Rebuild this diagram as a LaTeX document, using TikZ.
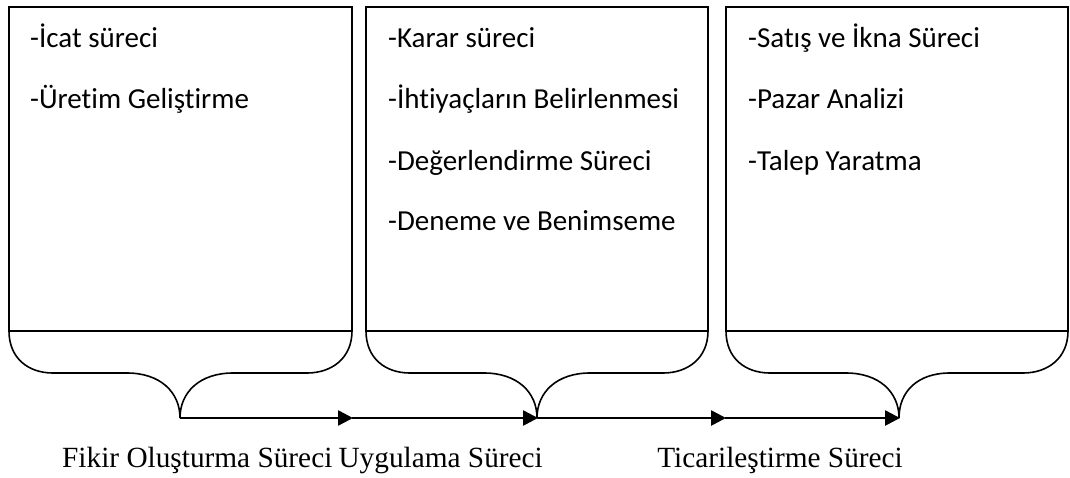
\documentclass[tikz,border=0pt]{standalone}
\usepackage{fontspec}
\setmainfont{Liberation Serif}
\newfontfamily\boxfont[Ligatures=NoCommon]{Carlito}
\usetikzlibrary{arrows.meta}

\tikzset{
  frame/.style={line width=1.6pt, line join=miter},
  brace/.style={line width=1.6pt},
  item/.style={anchor=base west, inner sep=0pt, font=\boxfont\fontsize{29}{32}\selectfont},
  phase/.style={inner sep=0pt, font=\fontsize{29.3}{32}\selectfont},
  flow/.style={line width=2.6pt, -{Triangle[length=15pt,width=15pt]}, shorten >=-1pt}
}

\begin{document}
\begin{tikzpicture}[x=1pt,y=-1pt]
\useasboundingbox (0,0) rectangle (1070,477);

% ---- three boxes: rectangular top, brace-shaped bottom ----
% box 1
\draw[frame] (9,331) -- (9,7) -- (352,7) -- (352,331) -- cycle;
\draw[brace] (352,331) .. controls (352,358) and (332,373) .. (307,373)
  -- (233,373) .. controls (200,373) and (180,392) .. (180,418)
  .. controls (180,392) and (160,373) .. (127,373)
  -- (53,373) .. controls (28,373) and (9,358) .. (9,331);
\coordinate (t1) at (180,418);

% box 2
\draw[frame] (366,331) -- (366,7) -- (708,7) -- (708,331) -- cycle;
\draw[brace] (708,331) .. controls (708,358) and (688,373) .. (663,373)
  -- (590,373) .. controls (557,373) and (537,392) .. (537,418)
  .. controls (537,392) and (517,373) .. (484,373)
  -- (410,373) .. controls (385,373) and (366,358) .. (366,331);
\coordinate (t2) at (537,418);

% box 3
\draw[frame] (726,331) -- (726,7) -- (1068,7) -- (1068,331) -- cycle;
\draw[brace] (1068,331) .. controls (1068,358) and (1048,373) .. (1023,373)
  -- (950,373) .. controls (917,373) and (899,392) .. (899,418)
  .. controls (899,392) and (879,373) .. (846,373)
  -- (770,373) .. controls (745,373) and (726,358) .. (726,331);
\coordinate (t3) at (899,418);

% ---- box contents ----
\node[item] (a1) at (30,47)  {-İcat süreci};
\node[item] (a2) at (30,108) {-Üretim Geliştirme};

\node[item] (b1) at (388,47)  {-Karar süreci};
\node[item] (b2) at (388,108) {-İhtiyaçların Belirlenmesi};
\node[item] (b3) at (388,170) {-Değerlendirme Süreci};
\node[item] (b4) at (388,230) {-Deneme ve Benimseme};

\node[item] (c1) at (748,47)  {-Satış ve İkna Süreci};
\node[item] (c2) at (748,108) {-Pazar Analizi};
\node[item] (c3) at (748,170) {-Talep Yaratma};

% ---- process flow along the brace tips ----
\coordinate (m1) at (352,418);
\coordinate (m2) at (725,418);
\draw[flow] (t1) -- (m1);
\draw[flow] (m1) -- (t2);
\draw[flow] (t2) -- (m2);
\draw[flow] (m2) -- (t3);

% ---- phase labels ----
\node[phase, anchor=base west] (p1) at (62,467) {Fikir Oluşturma Süreci};
\node[phase, anchor=base east] (p2) at (543,467) {Uygulama Süreci};
\node[phase, anchor=base east] (p3) at (903,467) {Ticarileştirme Süreci};
\end{tikzpicture}
\end{document}
